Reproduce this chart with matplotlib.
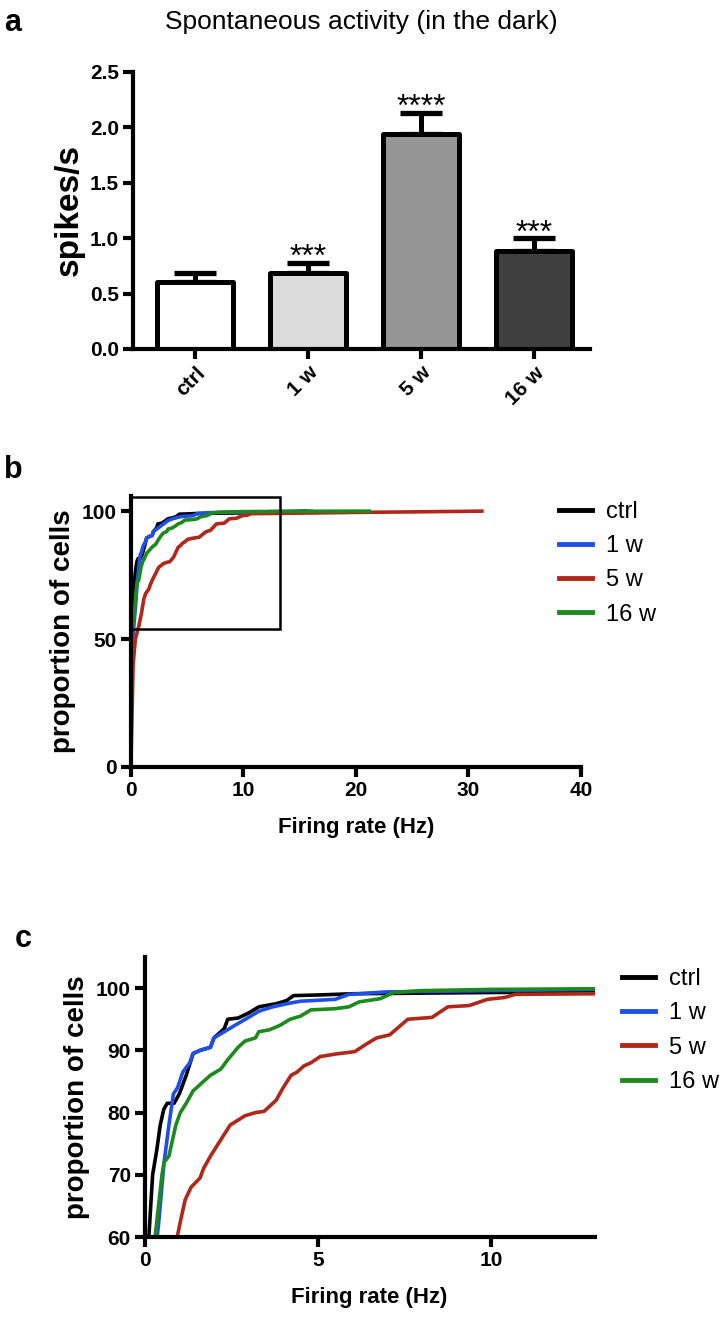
#!/usr/bin/env python
"""
Spontaneous activity bars and cumulative firing-rate distributions.
"""

import numpy as np
import matplotlib
matplotlib.use("Agg")
import matplotlib.pyplot as plt
from matplotlib.patches import Rectangle

# panel a data
groups = ["ctrl", "1 w", "5 w", "16 w"]
rate_mean = [0.60, 0.69, 1.94, 0.88]
rate_sem = [0.09, 0.09, 0.19, 0.12]
stars = ["", "***", "****", "***"]
bar_colors = ["#ffffff", "#dcdcdc", "#959595", "#404040"]

ctrl_x = [0.0, 0.04, 0.12, 0.23, 0.35, 0.45, 0.55, 0.65, 0.85, 1.0, 1.2, 1.4, 1.6, 1.9, 2.0,
          2.3, 2.4, 2.7, 3.0, 3.3, 3.8, 4.1, 4.3, 5.0, 6.0, 8.0, 10.0, 13.0, 15.5]
ctrl_y = [0, 45, 60, 70, 74, 78, 80.5, 81.5, 81.5, 83, 86, 89.5, 90, 90.5, 92,
          93.5, 95, 95.2, 96, 97, 97.5, 98, 98.8, 98.9, 99.1, 99.2, 99.3, 99.4, 100]

w1_x = [0.0, 0.05, 0.2, 0.4, 0.56, 0.7, 0.83, 0.95, 1.1, 1.3, 1.4, 1.6, 1.9, 2.0, 2.3,
        2.6, 3.0, 3.3, 3.7, 4.2, 4.5, 5.5, 5.9, 7.0, 10.0, 13.0, 16.0]
w1_y = [0, 40, 52, 62, 72, 78, 83, 84, 86.5, 88, 89.5, 90, 90.5, 92, 93,
        94, 95.3, 96.3, 97, 97.6, 97.9, 98.2, 99, 99.4, 99.6, 99.8, 100]

w5_x = [0.0, 0.1, 0.2, 0.4, 0.7, 0.94, 1.05, 1.17, 1.34, 1.6, 1.7, 1.9, 2.24, 2.47, 2.7,
        2.9, 3.2, 3.45, 3.8, 4.0, 4.23, 4.4, 4.6, 4.8, 5.07, 5.5, 6.07, 6.4, 6.7, 7.08,
        7.6, 8.3, 8.76, 9.37, 9.9, 10.4, 10.7, 13.0, 20.0, 25.0, 31.2]
w5_y = [0, 20, 40, 50, 55, 60, 63, 66, 68, 69.5, 71, 73, 76, 78, 78.8,
        79.5, 80, 80.2, 82, 84, 86, 86.5, 87.5, 88, 89, 89.4, 89.8, 91, 92, 92.5,
        95, 95.3, 97, 97.2, 98.2, 98.5, 99, 99.1, 99.5, 99.7, 100]

w16_x = [0.0, 0.05, 0.15, 0.3, 0.5, 0.56, 0.7, 0.9, 1.03, 1.2, 1.4, 1.7, 1.9, 2.2, 2.4,
         2.7, 2.9, 3.2, 3.3, 3.6, 3.9, 4.2, 4.5, 4.8, 5.5, 5.9, 6.2, 6.8, 7.2, 8.0,
         10.0, 13.0, 21.2]
w16_y = [0, 40, 55, 60, 70, 72, 73, 78, 80, 81.5, 83.5, 85, 86, 87, 88.5,
         90.5, 91.5, 92, 93, 93.3, 94, 95, 95.5, 96.5, 96.7, 97, 97.8, 98.3, 99.3, 99.6,
         99.8, 99.9, 100]

curves = [(ctrl_x, ctrl_y, "ctrl", "#000000"),
          (w1_x, w1_y, "1 w", "#1f4fe8"),
          (w5_x, w5_y, "5 w", "#b0281a"),
          (w16_x, w16_y, "16 w", "#1d8a1d")]

FONT = ["Liberation Sans", "DejaVu Sans"]

fig = plt.figure(figsize=(7.27, 13.32), dpi=100)


def style_axes(ax, lw=3.0, size=15):
    for side in ["top", "right"]:
        ax.spines[side].set_visible(False)
    for side in ["left", "bottom"]:
        ax.spines[side].set_linewidth(lw)
    ax.tick_params(width=lw, length=7, direction="out", pad=3)
    for tl in ax.get_xticklabels() + ax.get_yticklabels():
        tl.set_family(FONT)
        tl.set_fontweight("bold")
        tl.set_fontsize(size)


def add_legend(ax, x, y):
    leg = ax.legend(loc="upper left", bbox_to_anchor=(x, y), frameon=False,
                    borderpad=0, handlelength=1.4, handletextpad=0.6,
                    labelspacing=0.52, prop={"family": FONT, "size": 17})
    for ln in leg.get_lines():
        ln.set_linewidth(3.5)
    return leg


# ---- panel a ----
ax1 = fig.add_axes([0.183, 0.738, 0.629, 0.208])
xpos = np.arange(len(groups))
ax1.bar(xpos, rate_mean, width=0.67, color=bar_colors, edgecolor="black",
        linewidth=3.6, joinstyle="round", zorder=2)
ax1.errorbar(xpos, rate_mean, yerr=[np.zeros(len(groups)), rate_sem], fmt="none",
             ecolor="black", elinewidth=3.6, capsize=15, capthick=3.8, zorder=1)
for i, s in enumerate(stars):
    if s:
        ax1.text(xpos[i], rate_mean[i] + rate_sem[i] - 0.03, s, ha="center",
                 va="baseline", fontsize=23, family=FONT)
ax1.set_xlim(-0.549, 3.496)
ax1.set_ylim(0, 2.5)
ax1.set_yticks([0.0, 0.5, 1.0, 1.5, 2.0, 2.5])
ax1.set_yticklabels(["0.0", "0.5", "1.0", "1.5", "2.0", "2.5"])
ax1.set_xticks(xpos)
ax1.set_xticklabels(groups, rotation=45, ha="right", rotation_mode="anchor")
style_axes(ax1)
ax1.set_ylabel("spikes/s", fontsize=24, fontweight="bold", family=FONT, labelpad=4)
ax1.set_title("Spontaneous activity (in the dark)", fontsize=19, family=FONT, pad=31)
fig.text(0.005, 0.983, "a", fontsize=22, fontweight="bold", family=FONT, va="center")

# ---- panel b ----
ax2 = fig.add_axes([0.180, 0.4242, 0.619, 0.2036])
for x, y, lab, col in curves:
    ax2.plot(x, y, color=col, lw=2.6, label=lab)
ax2.add_patch(Rectangle((0, 54), 13.3, 51.6, fill=False, edgecolor="black", lw=1.8,
                        clip_on=False, zorder=5))
ax2.set_xlim(0, 40)
ax2.set_ylim(0, 106)
ax2.set_xticks([0, 10, 20, 30, 40])
ax2.set_yticks([0, 50, 100])
style_axes(ax2)
ax2.set_xlabel("Firing rate (Hz)", fontsize=16, fontweight="bold", family=FONT, labelpad=12)
ax2.set_ylabel("proportion of cells", fontsize=20, fontweight="bold", family=FONT, labelpad=4)
add_legend(ax2, 0.925, 1.025)
fig.text(0.005, 0.647, "b", fontsize=22, fontweight="bold", family=FONT, va="center")

# ---- panel c ----
ax3 = fig.add_axes([0.199, 0.0713, 0.619, 0.2102])
for x, y, lab, col in curves:
    ax3.plot(x, y, color=col, lw=2.6, label=lab)
ax3.set_xlim(0, 13)
ax3.set_ylim(60, 105)
ax3.set_xticks([0, 5, 10])
ax3.set_yticks([60, 70, 80, 90, 100])
style_axes(ax3)
ax3.set_xlabel("Firing rate (Hz)", fontsize=16, fontweight="bold", family=FONT, labelpad=12)
ax3.set_ylabel("proportion of cells", fontsize=20, fontweight="bold", family=FONT, labelpad=4)
add_legend(ax3, 1.035, 1.003)
fig.text(0.02, 0.295, "c", fontsize=22, fontweight="bold", family=FONT, va="center")

fig.savefig("out.png", dpi=100)
